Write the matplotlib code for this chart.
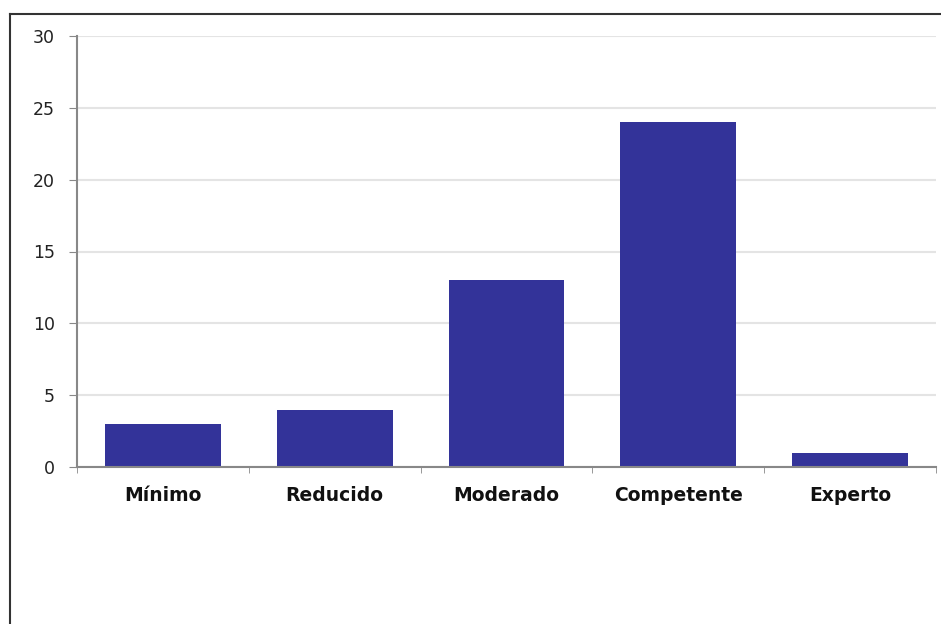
import numpy as np
import matplotlib
matplotlib.use("Agg")
import matplotlib.pyplot as plt
from matplotlib.lines import Line2D

# datos
categorias = ["Mínimo", "Reducido", "Moderado", "Competente", "Experto"]
valores = [3, 4, 13, 24, 1]
yticks = [0, 5, 10, 15, 20, 25, 30]

W, H = 941, 624
fig = plt.figure(figsize=(W / 100, H / 100), dpi=100)
ax = fig.add_axes([77 / W, 1 - 467 / H, (936 - 77) / W, (467 - 36) / H])

x = np.arange(len(categorias))
ax.bar(x, valores, width=0.675, color="#333399", zorder=3)

ax.set_xlim(-0.5, len(categorias) - 0.5)
ax.set_ylim(0, 30)
ax.set_yticks(yticks)
ax.set_yticklabels([str(v) for v in yticks], fontsize=12.5, color="#222222")
ax.yaxis.grid(True, color="#e4e4e4", linewidth=1.5, zorder=0)

# etiquetas en el centro, marcas en los limites de categoria
ax.set_xticks(x)
ax.set_xticklabels(categorias, fontsize=13.5, fontweight="bold", color="#111111")
ax.tick_params(axis="x", length=0, pad=14)
ax.set_xticks(np.arange(-0.5, len(categorias), 1), minor=True)
ax.tick_params(axis="x", which="minor", length=4, color="#888888", direction="out")
ax.tick_params(axis="y", length=6, color="#888888", pad=10)

for s in ["top", "right"]:
    ax.spines[s].set_visible(False)
for s in ["left", "bottom"]:
    ax.spines[s].set_color("#888888")
    ax.spines[s].set_linewidth(1.5)
    ax.spines[s].set_zorder(4)

# marco exterior (solo izquierda y arriba visibles)
fx = 10 / W
fy = 1 - 14 / H
fig.add_artist(Line2D([fx, 1], [fy, fy], transform=fig.transFigure, color="#333333", linewidth=1.5))
fig.add_artist(Line2D([fx, fx], [0, fy], transform=fig.transFigure, color="#333333", linewidth=1.5))

fig.savefig("out.png", dpi=100)
